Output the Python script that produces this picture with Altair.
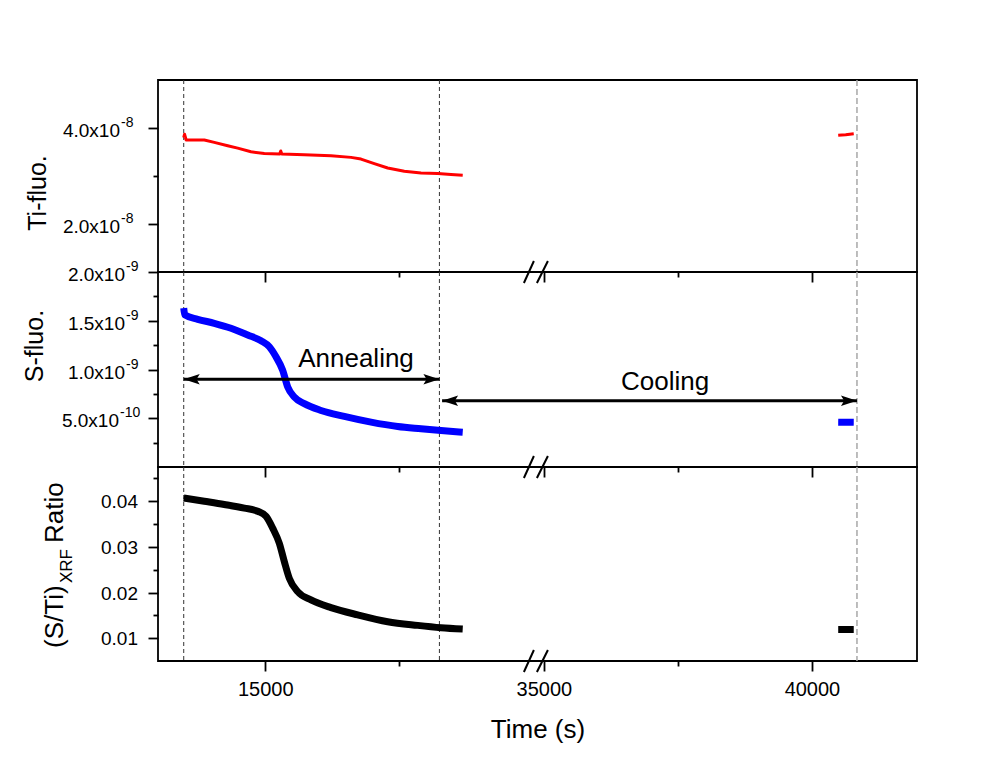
import altair as alt
import pandas as pd

FONT = "Liberation Sans"

# ---------------- data ----------------
# Time axis is broken: left segment 13000..20100 s, right segment 34900..41960 s
GAP = 14800  # seconds removed by the axis break

ti_time = [13480, 13495, 13525, 13864, 14050, 14300, 14487, 14735, 14983, 15270, 15290,
           15310, 15729, 16228, 16601, 16787, 17035, 17285, 17595, 17907, 18218, 18466, 18685]
ti_val = [3.80e-8, 3.87e-8, 3.75e-8, 3.75e-8, 3.70e-8, 3.63e-8, 3.58e-8, 3.505e-8, 3.47e-8,
          3.456e-8, 3.52e-8, 3.456e-8, 3.443e-8, 3.423e-8, 3.388e-8, 3.353e-8, 3.258e-8,
          3.167e-8, 3.099e-8, 3.064e-8, 3.052e-8, 3.031e-8, 3.016e-8]
ti_time2 = [40490, 40630, 40780]
ti_val2 = [3.85e-8, 3.86e-8, 3.88e-8]

s_time = [13480, 13500, 13741, 14050, 14362, 14674, 14922, 15077, 15201, 15326, 15420,
          15543, 15729, 16041, 16476, 16974, 17472, 17907, 18280, 18685]
s_val = [1.63e-9, 1.56e-9, 1.515e-9, 1.474e-9, 1.423e-9, 1.354e-9, 1.295e-9, 1.233e-9,
         1.130e-9, 0.993e-9, 0.821e-9, 0.718e-9, 0.650e-9, 0.580e-9, 0.519e-9, 0.460e-9,
         0.415e-9, 0.392e-9, 0.374e-9, 0.357e-9]
s_time2 = [40490, 40780]
s_val2 = [4.60e-10, 4.58e-10]

r_time = [13480, 13864, 14237, 14610, 14860, 15015, 15140, 15263, 15356, 15450, 15606,
          15854, 16228, 16726, 17285, 17845, 18280, 18685]
r_val = [0.0407, 0.0400, 0.0393, 0.0385, 0.0378, 0.0367, 0.0341, 0.0308, 0.0268, 0.0231,
         0.0202, 0.0184, 0.0167, 0.0151, 0.0136, 0.0128, 0.0123, 0.0120]
r_time2 = [40490, 40780]
r_val2 = [0.0119, 0.0119]

dark_lines_t = [13480, 18250]
grey_lines_t = [40840]

x_major = [15000, 35000, 40000]
x_minor = [17500, 37500]
x_break_at = 20050  # position of the // marks (left-segment seconds)

# y tick values and labels (mantissa x10^exponent)
ti_major, ti_minor = [2e-8, 4e-8], [3e-8]
ti_mant, ti_exp = ["2.0x10", "4.0x10"], ["-8", "-8"]
s_major, s_minor = [5e-10, 1e-9, 1.5e-9, 2e-9], [2.5e-10, 7.5e-10, 1.25e-9, 1.75e-9]
s_mant, s_exp = ["5.0x10", "1.0x10", "1.5x10", "2.0x10"], ["-10", "-9", "-9", "-9"]
r_major, r_minor = [0.01, 0.02, 0.03, 0.04], [0.015, 0.025, 0.035, 0.045]
r_labels = ["0.01", "0.02", "0.03", "0.04"]

anneal_arrow = {"t1": [13480], "t2": [18250], "v": [0.90e-9]}
cool_arrow = {"t1": [18300], "t2": [40840], "v": [0.68e-9]}
notes = {"t": [16694, 37259], "v": [1.106e-9, 0.869e-9], "txt": ["Annealing", "Cooling"]}

# ---------------- layout ----------------
W = 759
H1, H2, H3 = 192, 195, 194
X_DOMAIN = [13000, 27160]
TX = f"datum.t > 25000 ? datum.t - {GAP} : datum.t"


def tx(t):
    return t - GAP if t > 25000 else t


def series_df(t1, v1, t2, v2):
    return pd.DataFrame({
        "t": t1 + t2,
        "v": v1 + v2,
        "seg": ["a"] * len(t1) + ["b"] * len(t2),
    })


def near_test(vals):
    return " || ".join(f"abs(datum.value - {v!r}) < {abs(v) * 1e-6!r}" for v in vals)


def label_expr(vals, labels):
    parts = [f"abs(datum.value - {v!r}) < {abs(v) * 1e-6!r} ? '{lab}'" for v, lab in zip(vals, labels)]
    return " : ".join(parts) + " : ''"


def x_axis(show):
    maj = [tx(v) for v in x_major]
    mnr = [tx(v) for v in x_minor]
    return alt.Axis(
        values=maj + mnr,
        labelExpr=label_expr(maj, [str(v) for v in x_major]),
        labels=show,
        labelOverlap=False,
        title="Time (s)" if show else None,
        tickSize={"condition": {"test": near_test(mnr), "value": 5}, "value": 10},
        domain=False, grid=False, tickColor="black", tickWidth=1.8,
        labelFontSize=20, labelPadding=8, titleFontSize=26, titlePadding=17,
    )


def y_axis(major, minor):
    return alt.Axis(
        values=major + minor,
        labels=False,
        title=None,
        tickSize={"condition": {"test": near_test(minor), "value": 5}, "value": 10},
        domain=False, grid=False, tickColor="black", tickWidth=1.8,
    )


LEFT_HEAD = "M -1 0 L 1 -0.65 L 0.6 0 L 1 0.65 Z"
RIGHT_HEAD = "M 1 0 L -1 -0.65 L -0.6 0 L -1 0.65 Z"


def panel(df, color, sw, interp, ydom, yax, H, show_x, arrows, notes_d, sci_labels, plain_labels, titles):
    xs = alt.Scale(domain=X_DOMAIN, nice=False, zero=False)
    ys = alt.Scale(domain=ydom, nice=False, zero=False)
    xax = x_axis(show_x)

    def X(f):
        return alt.X(f, scale=xs, axis=xax)

    def Y(f):
        return alt.Y(f, scale=ys, axis=yax)

    line = alt.Chart(df).transform_calculate(tx=TX).mark_line(
        color=color, strokeWidth=sw, strokeJoin="round", interpolate=interp
    ).encode(x=X("tx:Q"), y=Y("v:Q"), detail="seg:N")
    dark = alt.Chart(pd.DataFrame({"t": dark_lines_t})).transform_calculate(tx=TX).mark_rule(
        color="#333333", strokeWidth=1, strokeDash=[4, 3]
    ).encode(x=X("tx:Q"))
    grey = alt.Chart(pd.DataFrame({"t": grey_lines_t})).transform_calculate(tx=TX).mark_rule(
        color="#a8a8a8", strokeWidth=1.5, strokeDash=[6, 3]
    ).encode(x=X("tx:Q"))
    bdf = pd.DataFrame({"b": [x_break_at]})
    slash1 = alt.Chart(bdf).mark_rule(color="black", strokeWidth=2, xOffset=-12, x2Offset=-2).encode(
        x=X("b:Q"), x2="b:Q", y=alt.value(H + 11), y2=alt.value(H - 11))
    slash2 = alt.Chart(bdf).mark_rule(color="black", strokeWidth=2, xOffset=1, x2Offset=12).encode(
        x=X("b:Q"), x2="b:Q", y=alt.value(H + 11), y2=alt.value(H - 11))
    layers = [dark, grey, line]
    for d in arrows:
        base = alt.Chart(pd.DataFrame(d)).transform_calculate(
            tx1=f"datum.t1 > 25000 ? datum.t1 - {GAP} : datum.t1",
            tx2=f"datum.t2 > 25000 ? datum.t2 - {GAP} : datum.t2",
        )
        layers.append(base.mark_rule(color="black", strokeWidth=3).encode(
            x=X("tx1:Q"), x2="tx2:Q", y=Y("v:Q")))
        layers.append(base.mark_point(shape=LEFT_HEAD, filled=True, size=256, color="black",
                                      opacity=1, xOffset=8).encode(x=X("tx1:Q"), y=Y("v:Q")))
        layers.append(base.mark_point(shape=RIGHT_HEAD, filled=True, size=256, color="black",
                                      opacity=1, xOffset=-8).encode(x=X("tx2:Q"), y=Y("v:Q")))
    if notes_d is not None:
        layers.append(alt.Chart(pd.DataFrame(notes_d)).transform_calculate(tx=TX).mark_text(
            fontSize=26, font=FONT, color="black", align="center", baseline="middle"
        ).encode(x=X("tx:Q"), y=Y("v:Q"), text="txt:N"))
    # scientific tick labels: mantissa + raised exponent, grouped by exponent length
    for vals, mants, exps, split in sci_labels:
        ldf = pd.DataFrame({"v": vals, "m": mants, "e": exps, "lx": [X_DOMAIN[0]] * len(vals)})
        layers.append(alt.Chart(ldf).mark_text(
            fontSize=19, font=FONT, color="black", align="right", baseline="middle", dx=split - 1, dy=3
        ).encode(x=X("lx:Q"), y=Y("v:Q"), text="m:N"))
        layers.append(alt.Chart(ldf).mark_text(
            fontSize=14, font=FONT, color="black", align="left", baseline="middle", dx=split, dy=-5
        ).encode(x=X("lx:Q"), y=Y("v:Q"), text="e:N"))
    if plain_labels is not None:
        vals, labs = plain_labels
        ldf = pd.DataFrame({"v": vals, "m": labs, "lx": [X_DOMAIN[0]] * len(vals)})
        layers.append(alt.Chart(ldf).mark_text(
            fontSize=19, font=FONT, color="black", align="right", baseline="middle", dx=-20, dy=1
        ).encode(x=X("lx:Q"), y=Y("v:Q"), text="m:N"))
    layers += [slash1, slash2] + titles
    return alt.layer(*layers).properties(width=W, height=H)


def title_text(txt, x, y, size=25, align="center"):
    return alt.Chart(pd.DataFrame({"l": [txt]})).mark_text(
        angle=270, fontSize=size, align=align, baseline="alphabetic", font=FONT, color="black"
    ).encode(text="l:N", x=alt.value(x), y=alt.value(y))


def split_groups(vals, mants, exps, short_pos, long_pos):
    groups = []
    for is_long, pos in ((False, short_pos), (True, long_pos)):
        idx = [i for i, e in enumerate(exps) if (len(e) > 2) == is_long]
        if idx:
            groups.append(([vals[i] for i in idx], [mants[i] for i in idx], [exps[i] for i in idx], pos))
    return groups


top = panel(
    series_df(ti_time, ti_val, ti_time2, ti_val2), "#ff0000", 3, "linear", [1e-8, 5e-8],
    y_axis(ti_major, ti_minor), H1, False, [], None,
    split_groups(ti_major, ti_mant, ti_exp, -37, -37), None,
    [title_text("Ti-fluo.", -112, 113)],
)
mid = panel(
    series_df(s_time, s_val, s_time2, s_val2), "#0000ff", 7, "monotone", [0, 2e-9],
    y_axis(s_major, s_minor), H2, False, [anneal_arrow, cool_arrow], notes,
    split_groups(s_major, s_mant, s_exp, -32, -38), None,
    [title_text("S-fluo.", -115, 74)],
)
bot = panel(
    series_df(r_time, r_val, r_time2, r_val2), "#000000", 7, "monotone", [0.005, 0.0475],
    y_axis(r_major, r_minor), H3, True, [], None, [], (r_major, r_labels),
    [
        title_text("(S/Ti)", -95, 181, size=26, align="left"),
        title_text("XRF", -86, 116, size=17, align="left"),
        title_text("Ratio", -95, 76, size=26, align="left"),
    ],
)

chart = alt.vconcat(top, mid, bot, spacing=0, bounds="flush").properties(
    padding={"left": 14, "top": 70, "right": 10, "bottom": 10},
    background="white",
).configure_view(
    stroke="black", strokeWidth=1.8
).configure_axis(
    labelFont=FONT, titleFont=FONT, labelColor="black", titleColor="black", titleFontWeight="normal"
)

chart.save("out.html", embed_options={"renderer": "svg", "actions": False})
